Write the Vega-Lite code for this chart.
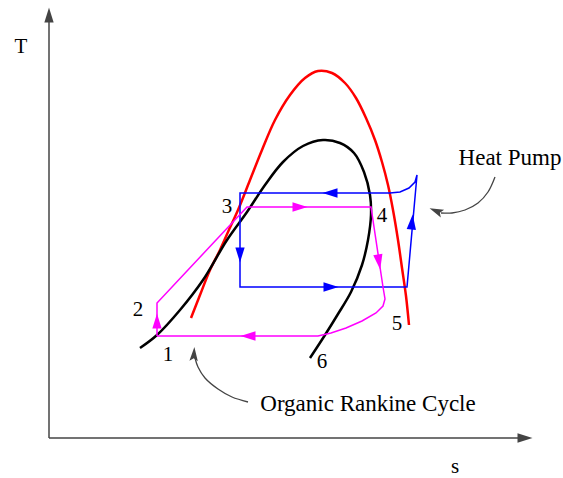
{
  "$schema": "https://vega.github.io/schema/vega-lite/v6.json",
  "width": 563,
  "height": 478,
  "padding": 0,
  "autosize": {"type": "none"},
  "config": {"view": {"stroke": null}},
  "datasets": {
    "paths": [
      {"series": "red", "i": 1, "s": 191, "T": 318},
      {"series": "red", "i": 2, "s": 200, "T": 295},
      {"series": "red", "i": 3, "s": 210, "T": 270},
      {"series": "red", "i": 4, "s": 220, "T": 250},
      {"series": "red", "i": 5, "s": 228, "T": 232},
      {"series": "red", "i": 6, "s": 238, "T": 210},
      {"series": "red", "i": 7, "s": 250, "T": 180},
      {"series": "red", "i": 8, "s": 262, "T": 150},
      {"series": "red", "i": 9, "s": 275, "T": 120},
      {"series": "red", "i": 10, "s": 290, "T": 95},
      {"series": "red", "i": 11, "s": 305, "T": 78},
      {"series": "red", "i": 12, "s": 318, "T": 71},
      {"series": "red", "i": 13, "s": 332, "T": 73},
      {"series": "red", "i": 14, "s": 345, "T": 83},
      {"series": "red", "i": 15, "s": 356, "T": 98},
      {"series": "red", "i": 16, "s": 366, "T": 118},
      {"series": "red", "i": 17, "s": 375, "T": 140},
      {"series": "red", "i": 18, "s": 382, "T": 162},
      {"series": "red", "i": 19, "s": 388, "T": 185},
      {"series": "red", "i": 20, "s": 393, "T": 210},
      {"series": "red", "i": 21, "s": 398, "T": 240},
      {"series": "red", "i": 22, "s": 402, "T": 268},
      {"series": "red", "i": 23, "s": 406, "T": 296},
      {"series": "red", "i": 24, "s": 409, "T": 325},
      {"series": "black", "i": 1, "s": 140, "T": 348},
      {"series": "black", "i": 2, "s": 157, "T": 335},
      {"series": "black", "i": 3, "s": 180, "T": 310},
      {"series": "black", "i": 4, "s": 203, "T": 280},
      {"series": "black", "i": 5, "s": 227, "T": 240},
      {"series": "black", "i": 6, "s": 247, "T": 212},
      {"series": "black", "i": 7, "s": 265, "T": 185},
      {"series": "black", "i": 8, "s": 283, "T": 162},
      {"series": "black", "i": 9, "s": 303, "T": 146},
      {"series": "black", "i": 10, "s": 323, "T": 140},
      {"series": "black", "i": 11, "s": 340, "T": 143},
      {"series": "black", "i": 12, "s": 354, "T": 153},
      {"series": "black", "i": 13, "s": 364, "T": 172},
      {"series": "black", "i": 14, "s": 370, "T": 195},
      {"series": "black", "i": 15, "s": 371, "T": 215},
      {"series": "black", "i": 16, "s": 368, "T": 240},
      {"series": "black", "i": 17, "s": 362, "T": 265},
      {"series": "black", "i": 18, "s": 351, "T": 292},
      {"series": "black", "i": 19, "s": 338, "T": 314},
      {"series": "black", "i": 20, "s": 325, "T": 335},
      {"series": "black", "i": 21, "s": 310, "T": 358},
      {"series": "blue", "i": 1, "s": 241, "T": 193},
      {"series": "blue", "i": 2, "s": 240, "T": 193},
      {"series": "blue", "i": 3, "s": 240, "T": 287},
      {"series": "blue", "i": 4, "s": 407, "T": 287},
      {"series": "blue", "i": 5, "s": 417, "T": 175},
      {"series": "blue", "i": 6, "s": 415, "T": 182},
      {"series": "blue", "i": 7, "s": 409, "T": 188},
      {"series": "blue", "i": 8, "s": 400, "T": 192},
      {"series": "blue", "i": 9, "s": 390, "T": 193},
      {"series": "blue", "i": 10, "s": 241, "T": 193},
      {"series": "pink", "i": 1, "s": 157, "T": 336},
      {"series": "pink", "i": 2, "s": 157, "T": 303},
      {"series": "pink", "i": 3, "s": 247, "T": 207},
      {"series": "pink", "i": 4, "s": 371, "T": 207},
      {"series": "pink", "i": 5, "s": 383, "T": 287},
      {"series": "pink", "i": 6, "s": 385, "T": 299},
      {"series": "pink", "i": 7, "s": 383, "T": 306},
      {"series": "pink", "i": 8, "s": 376, "T": 313},
      {"series": "pink", "i": 9, "s": 362, "T": 321},
      {"series": "pink", "i": 10, "s": 346, "T": 328},
      {"series": "pink", "i": 11, "s": 331, "T": 333},
      {"series": "pink", "i": 12, "s": 318, "T": 336},
      {"series": "pink", "i": 13, "s": 157, "T": 336},
      {"series": "hp_note", "i": 1, "s": 495, "T": 177},
      {"series": "hp_note", "i": 2, "s": 488, "T": 192},
      {"series": "hp_note", "i": 3, "s": 478, "T": 203},
      {"series": "hp_note", "i": 4, "s": 465, "T": 210},
      {"series": "hp_note", "i": 5, "s": 452, "T": 213},
      {"series": "hp_note", "i": 6, "s": 441, "T": 213},
      {"series": "orc_note", "i": 1, "s": 248, "T": 402},
      {"series": "orc_note", "i": 2, "s": 232, "T": 397},
      {"series": "orc_note", "i": 3, "s": 218, "T": 389},
      {"series": "orc_note", "i": 4, "s": 205, "T": 378},
      {"series": "orc_note", "i": 5, "s": 198, "T": 367},
      {"series": "orc_note", "i": 6, "s": 195, "T": 358},
      {"series": "axis_T", "i": 1, "s": 49, "T": 438},
      {"series": "axis_T", "i": 2, "s": 49, "T": 20},
      {"series": "axis_s", "i": 1, "s": 49, "T": 438},
      {"series": "axis_s", "i": 2, "s": 520, "T": 438}
    ],
    "heads": [
      {"group": "pink", "s": 157, "T": 321, "angle": 0},
      {"group": "pink", "s": 300, "T": 207, "angle": 90},
      {"group": "pink", "s": 379, "T": 262, "angle": 171},
      {"group": "pink", "s": 248, "T": 336, "angle": 270},
      {"group": "blue", "s": 330, "T": 193, "angle": 270},
      {"group": "blue", "s": 240, "T": 255, "angle": 180},
      {"group": "blue", "s": 331, "T": 287, "angle": 90},
      {"group": "blue", "s": 412, "T": 222, "angle": 5},
      {"group": "gray", "s": 436, "T": 211, "angle": 293},
      {"group": "gray", "s": 194, "T": 354, "angle": 3},
      {"group": "axis", "s": 49, "T": 15, "angle": 0},
      {"group": "axis", "s": 525, "T": 438, "angle": 90}
    ],
    "labels": [
      {"text": "T", "kind": "num", "s": 21, "T": 47},
      {"text": "s", "kind": "num", "s": 455, "T": 467},
      {"text": "1", "kind": "num", "s": 168, "T": 355},
      {"text": "2", "kind": "num", "s": 138, "T": 310},
      {"text": "3", "kind": "num", "s": 227, "T": 207},
      {"text": "4", "kind": "num", "s": 382, "T": 216},
      {"text": "5", "kind": "num", "s": 397, "T": 324},
      {"text": "6", "kind": "num", "s": 322, "T": 362},
      {"text": "Heat Pump", "kind": "note", "s": 510, "T": 158},
      {"text": "Organic Rankine Cycle", "kind": "note", "s": 368, "T": 404}
    ]
  },
  "encoding": {
    "x": {"field": "s", "type": "quantitative", "scale": {"domain": [0, 563], "nice": false, "zero": false}, "axis": null},
    "y": {"field": "T", "type": "quantitative", "scale": {"domain": [0, 478], "nice": false, "zero": false, "reverse": true}, "axis": null}
  },
  "layer": [
    {
      "data": {"name": "paths"},
      "transform": [{"filter": "indexof(['axis_T','axis_s'], datum.series) >= 0"}],
      "mark": {"type": "line", "color": "#444444", "strokeWidth": 1.5},
      "encoding": {"detail": {"field": "series"}, "order": {"field": "i"}}
    },
    {
      "data": {"name": "paths"},
      "transform": [{"filter": "datum.series === 'red'"}],
      "mark": {"type": "line", "color": "#ff0000", "strokeWidth": 2.5, "interpolate": "catmull-rom"},
      "encoding": {"order": {"field": "i"}}
    },
    {
      "data": {"name": "paths"},
      "transform": [{"filter": "datum.series === 'black'"}],
      "mark": {"type": "line", "color": "#000000", "strokeWidth": 2.5, "interpolate": "catmull-rom"},
      "encoding": {"order": {"field": "i"}}
    },
    {
      "data": {"name": "paths"},
      "transform": [{"filter": "datum.series === 'blue'"}],
      "mark": {"type": "line", "color": "#0000ff", "strokeWidth": 1.5},
      "encoding": {"order": {"field": "i"}}
    },
    {
      "data": {"name": "paths"},
      "transform": [{"filter": "datum.series === 'pink'"}],
      "mark": {"type": "line", "color": "#ff00ff", "strokeWidth": 1.5},
      "encoding": {"order": {"field": "i"}}
    },
    {
      "data": {"name": "paths"},
      "transform": [{"filter": "datum.series === 'hp_note' || datum.series === 'orc_note'"}],
      "mark": {"type": "line", "color": "#444444", "strokeWidth": 1.3, "interpolate": "catmull-rom"},
      "encoding": {"detail": {"field": "series"}, "order": {"field": "i"}}
    },
    {
      "data": {"name": "heads"},
      "transform": [{"filter": "datum.group !== 'gray'"}],
      "mark": {"type": "point", "filled": true, "opacity": 1, "shape": "M0,-1L0.62,1L-0.62,1Z", "size": 225},
      "encoding": {
        "angle": {"field": "angle", "type": "quantitative", "scale": null},
        "color": {"field": "group", "type": "nominal", "scale": {"domain": ["pink", "blue", "axis"], "range": ["#ff00ff", "#0000ff", "#444444"]}, "legend": null}
      }
    },
    {
      "data": {"name": "heads"},
      "transform": [{"filter": "datum.group === 'gray'"}],
      "mark": {"type": "point", "filled": true, "opacity": 1, "shape": "M0,-1L0.6,1L0,0.6L-0.6,1Z", "size": 196, "color": "#444444"},
      "encoding": {
        "angle": {"field": "angle", "type": "quantitative", "scale": null}
      }
    },
    {
      "data": {"name": "labels"},
      "transform": [{"filter": "datum.kind === 'num'"}],
      "mark": {"type": "text", "font": "Liberation Serif", "fontSize": 21, "align": "center", "baseline": "middle", "color": "#000000"},
      "encoding": {"text": {"field": "text"}}
    },
    {
      "data": {"name": "labels"},
      "transform": [{"filter": "datum.kind === 'note'"}],
      "mark": {"type": "text", "font": "Liberation Serif", "fontSize": 23, "align": "center", "baseline": "middle", "color": "#000000"},
      "encoding": {"text": {"field": "text"}}
    }
  ]
}
